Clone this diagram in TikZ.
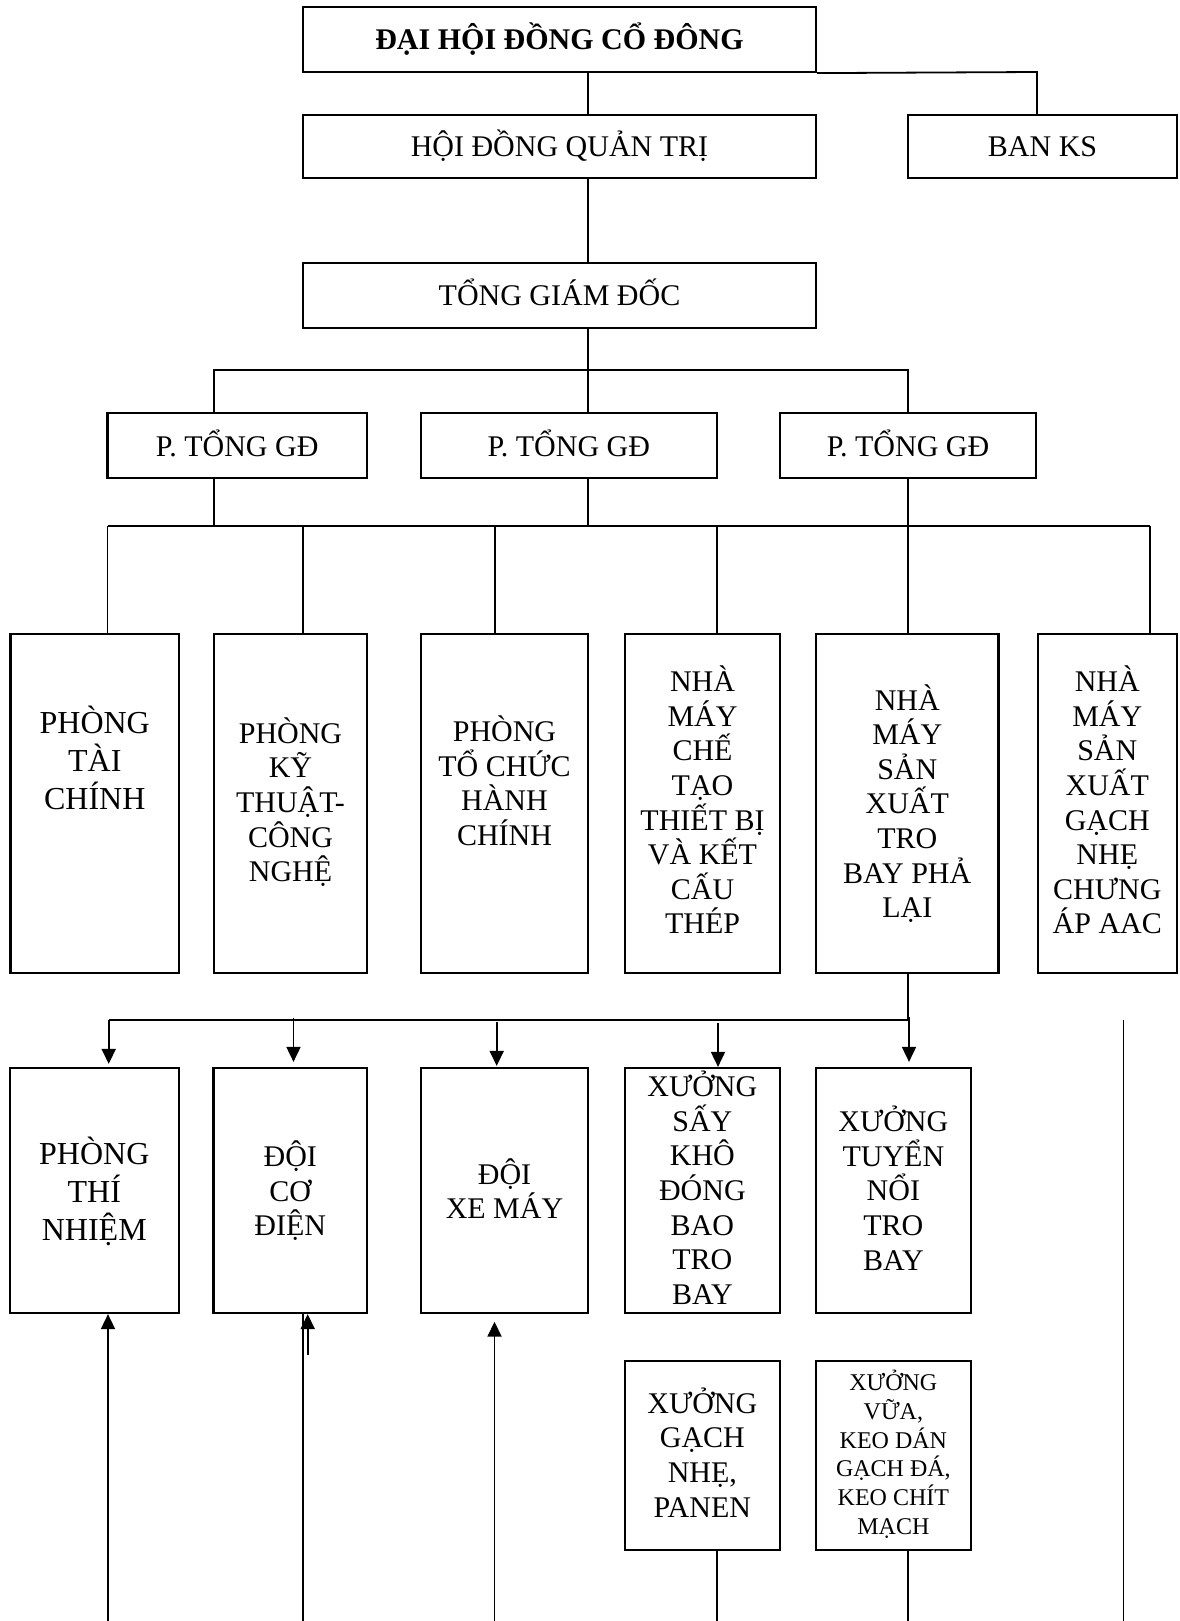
\documentclass[tikz,border=0pt]{standalone}
\usepackage{fontspec}
\setmainfont{Liberation Serif}
\usetikzlibrary{arrows.meta}
\newcommand\stacklines[1]{\vtop{\lineskiplimit=-\maxdimen\lineskip=0pt\halign{\hfil##\hfil\cr#1\crcr}}}
\newcommand\bx[5]{\node[box,minimum width={(#4-#2)*0.5pt},minimum height={(#5-#3)*0.5pt}] (#1) at ({(#2+#4)/2},{(#3+#5)/2}) {};}
\begin{document}
\begin{tikzpicture}[x=0.5pt,y=-0.5pt,
  box/.style={draw,line width=1.1pt,inner sep=0pt,rectangle},
  txt/.style={inner sep=0pt,anchor=base,font=\fontsize{15}{17.3}\selectfont},
  bigtxt/.style={txt,font=\fontsize{16}{19}\selectfont},
  smalltxt/.style={txt,font=\fontsize{12}{14.35}\selectfont},
  titletxt/.style={txt,font=\bfseries\fontsize{15}{17.3}\selectfont},
  link/.style={line width=0.9pt},
  arr/.style={link,-{Triangle[width=7pt,length=7.5pt]}},
]
\useasboundingbox (0,0) rectangle (1179,1621);
% boxes
\bx{dh}{303}{7}{816}{72}
\bx{hd}{303}{115}{816}{178}
\bx{ban}{908}{115}{1177}{178}
\bx{tg}{303}{263}{816}{328}
\bx{p1}{107.5}{413}{367}{478}
\bx{p2}{421}{413}{716.6}{478}
\bx{p3}{780}{413}{1036}{478}
\bx{b1}{10.5}{634}{179}{973}
\bx{b2}{214}{634}{367}{973}
\bx{b3}{421}{634}{588}{973}
\bx{b4}{625}{634}{780}{973}
\bx{b5}{816}{634}{998.5}{973}
\bx{b6}{1037.6}{634}{1177}{973}
\bx{r1}{9.6}{1068}{179}{1313}
\bx{r2}{213.5}{1068}{367}{1313}
\bx{r3}{421}{1068}{588}{1313}
\bx{r4}{624.7}{1068}{780}{1313}
\bx{r5}{815.7}{1068}{971}{1313}
\bx{r6}{624.7}{1361}{780}{1550}
\bx{r7}{815.7}{1361}{971}{1550}
% texts
\node[titletxt] (dht) at (559.5,50) {ĐẠI HỘI ĐỒNG CỔ ĐÔNG};
\node[txt] (hdt) at (559.5,156.7) {HỘI ĐỒNG QUẢN TRỊ};
\node[txt] (bant) at (1042.5,156.7) {BAN KS};
\node[txt] (tgt) at (559.5,305) {TỔNG GIÁM ĐỐC};
\node[txt] (p1t) at (237.25,456) {P. TỔNG GĐ};
\node[txt] (p2t) at (568.8,456) {P. TỔNG GĐ};
\node[txt] (p3t) at (908,456) {P. TỔNG GĐ};
\node[bigtxt] (b1t) at (94.75,733) {\stacklines{PHÒNG\cr TÀI\cr CHÍNH}};
\node[txt] (b2t) at (290.5,743.3) {\stacklines{PHÒNG\cr KỸ\cr THUẬT-\cr CÔNG\cr NGHỆ}};
\node[txt] (b3t) at (504.5,741.7) {\stacklines{PHÒNG\cr TỔ CHỨC\cr HÀNH\cr CHÍNH}};
\node[txt] (b4t) at (702.5,691.7) {\stacklines{NHÀ\cr MÁY\cr CHẾ\cr TẠO\cr THIẾT BỊ\cr VÀ KẾT\cr CẤU\cr THÉP}};
\node[txt] (b5t) at (907.25,710) {\stacklines{NHÀ\cr MÁY\cr SẢN\cr XUẤT\cr TRO\cr BAY PHẢ\cr LẠI}};
\node[txt] (b6t) at (1107.3,691.7) {\stacklines{NHÀ\cr MÁY\cr SẢN\cr XUẤT\cr GẠCH\cr NHẸ\cr CHƯNG\cr ÁP AAC}};
\node[bigtxt] (r1t) at (94.3,1164) {\stacklines{PHÒNG\cr THÍ\cr NHIỆM}};
\node[txt] (r2t) at (290.25,1166.7) {\stacklines{ĐỘI\cr CƠ\cr ĐIỆN}};
\node[txt] (r3t) at (504.5,1184) {\stacklines{ĐỘI\cr XE MÁY}};
\node[txt] (r4t) at (702.35,1096.7) {\stacklines{XƯỞNG\cr SẤY\cr KHÔ\cr ĐÓNG\cr BAO\cr TRO\cr BAY}};
\node[txt] (r5t) at (893.35,1131.7) {\stacklines{XƯỞNG\cr TUYỂN\cr NỔI\cr TRO\cr BAY}};
\node[txt] (r6t) at (702.35,1413.3) {\stacklines{XƯỞNG\cr GẠCH\cr NHẸ,\cr PANEN}};
\node[smalltxt] (r7t) at (893.35,1390.7) {\stacklines{XƯỞNG\cr VỮA,\cr KEO DÁN\cr GẠCH ĐÁ,\cr KEO CHÍT\cr MẠCH}};
% top connectors
\coordinate (k1) at (588,0);
\coordinate (kb) at (1037,72);
\draw[link] (dh.south -| k1) -- (hd.north -| k1);
\draw[link] (dh.south east) -- (kb) -- (ban.north -| kb);
\draw[link] (hd.south -| k1) -- (tg.north -| k1);
\draw[link] (tg.south -| k1) -- (p2.north -| k1);
\coordinate (v1) at (214,370);
\coordinate (v3) at (908,370);
\draw[link] (p1.north -| v1) -- (v1) -- (v3) -- (p3.north -| v3);
\coordinate (w0) at (0,526);
\draw[link] (p1.south -| v1) -- (v1 |- w0);
\draw[link] (p2.south -| k1) -- (k1 |- w0);
\draw[link] (p3.south -| v3) -- (v3 |- w0);
\coordinate (d1) at (107.5,526);
\coordinate (d2) at (303,526);
\coordinate (d3) at (495,526);
\coordinate (d4) at (716.6,526);
\coordinate (d5) at (908,526);
\coordinate (d6) at (1150,526);
\draw[link] (d1) -- (d6);
\foreach \b/\d in {b1/d1,b2/d2,b3/d3,b4/d4,b5/d5,b6/d6}
  \draw[link] (\d) -- (\b.north -| \d);
% lower bus
\coordinate (e0) at (108.7,1020);
\coordinate (e5) at (908,1020);
\draw[link] (b5.south -| e5) -- (e5) -- (e0);
\coordinate (a2) at (293.5,1017.7);
\coordinate (a3) at (496.7,1021.7);
\coordinate (a4) at (718,1023);
\coordinate (a5) at (909,1017);
\draw[arr] (e0) -- ([yshift=1.5pt]r1.north -| e0);
\draw[arr] (a2) -- ([yshift=2.5pt]r2.north -| a2);
\draw[arr] (a3) -- ([yshift=0.5pt]r3.north -| a3);
\draw[arr] (a4) -- (r4.north -| a4);
\draw[arr] (a5) -- ([yshift=2.5pt]r5.north -| a5);
\coordinate (f1) at (1123.5,1020);
\coordinate (f2) at (1123.5,1621);
\draw[link] (f1) -- (f2);
% bottom lines
\coordinate (g1) at (108,1621);
\draw[arr] (g1) -- (r1.south -| g1);
\coordinate (g2) at (303,1621);
\draw[link] (g2) -- (r2.south -| g2);
\coordinate (g2b) at (307.7,1355);
\draw[arr] (g2b) -- (r2.south -| g2b);
\coordinate (g3) at (494.5,1621);
\draw[arr] (g3) -- ([yshift=-3.8pt]r3.south -| g3);
\coordinate (h1) at (716.7,1621);
\draw[link] (r6.south -| h1) -- (h1);
\coordinate (h2) at (907.7,1621);
\draw[link] (r7.south -| h2) -- (h2);
\end{tikzpicture}
\end{document}
